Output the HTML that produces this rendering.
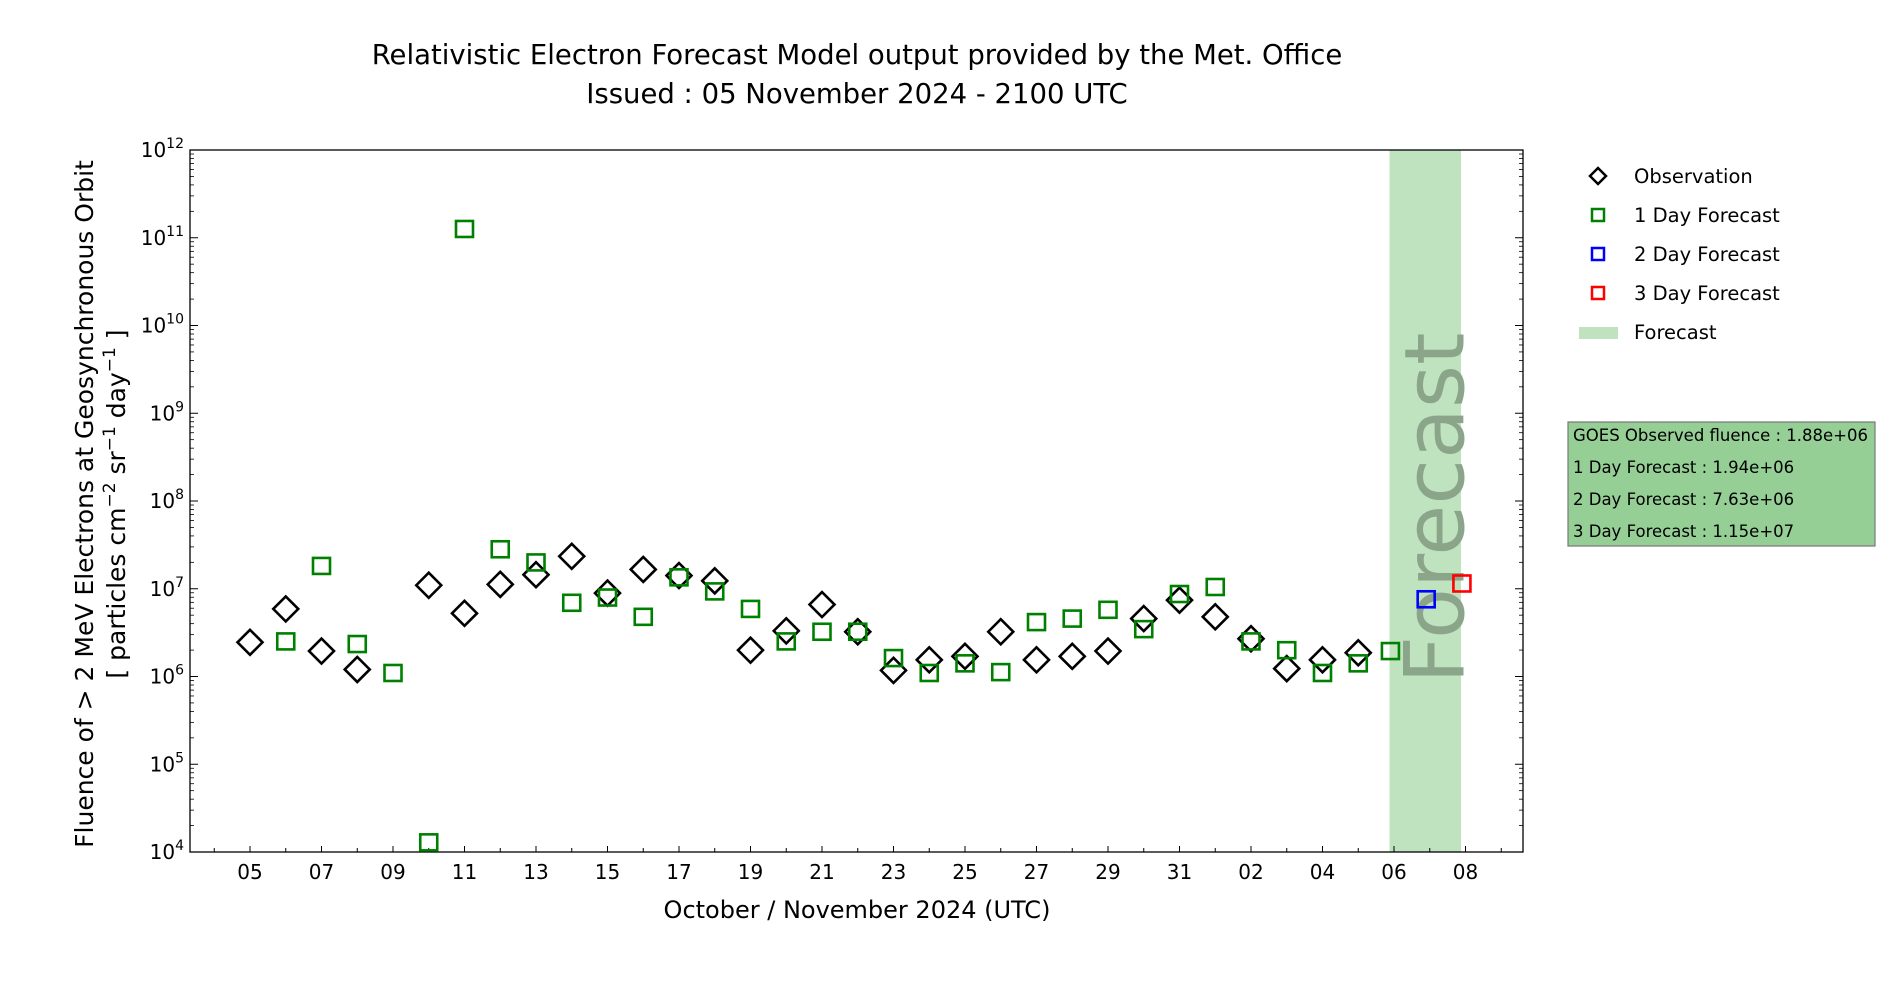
<!DOCTYPE html>
<html><head><meta charset="utf-8"><style>
body{margin:0;background:#fff;}
svg{display:block;font-family:"DejaVu Sans","Liberation Sans",sans-serif;}
</style></head><body>
<svg id="chart" width="1900" height="1000" viewBox="0 0 1900 1000">
<text x="857" y="64" text-anchor="middle" font-size="27.5">Relativistic Electron Forecast Model output provided by the Met. Office</text>
<text x="857" y="103" text-anchor="middle" font-size="27.5">Issued : 05 November 2024 - 2100 UTC</text>
<g id="plot"></g>
<text x="857" y="918" text-anchor="middle" font-size="24">October / November 2024 (UTC)</text>
<text transform="translate(93,504) rotate(-90)" text-anchor="middle" font-size="25">Fluence of &gt; 2 MeV Electrons at Geosynchronous Orbit</text>
<text transform="translate(125,504) rotate(-90)" text-anchor="middle" font-size="25">[ particles cm<tspan dy="-10" font-size="17">−2</tspan><tspan dy="10"> sr</tspan><tspan dy="-10" font-size="17">−1</tspan><tspan dy="10"> day</tspan><tspan dy="-10" font-size="17">−1</tspan><tspan dy="10"> ]</tspan></text>
<g transform="translate(-4,0)">
<path d="M1602,168 l8,8 l-8,8 l-8,-8 z" fill="none" stroke="#000" stroke-width="2.5"/>
<text x="1638" y="183" font-size="19.5">Observation</text>
<rect x="1596" y="209" width="12" height="12" fill="none" stroke="green" stroke-width="2.5"/>
<text x="1638" y="222" font-size="19.5">1 Day Forecast</text>
<rect x="1596" y="248" width="12" height="12" fill="none" stroke="blue" stroke-width="2.5"/>
<text x="1638" y="261" font-size="19.5">2 Day Forecast</text>
<rect x="1596" y="287" width="12" height="12" fill="none" stroke="red" stroke-width="2.5"/>
<text x="1638" y="300" font-size="19.5">3 Day Forecast</text>
<rect x="1583" y="327" width="39" height="12" fill="#bfe3bf"/>
<text x="1638" y="339" font-size="19.5">Forecast</text>
</g>
<g transform="translate(-4,0)">
<rect x="1572" y="422" width="307" height="124" fill="#95cf95" stroke="#777" stroke-width="1.2"/>
<text x="1577" y="441" font-size="16.5">GOES Observed fluence : 1.88e+06</text>
<text x="1577" y="473" font-size="16.5">1 Day Forecast : 1.94e+06</text>
<text x="1577" y="505" font-size="16.5">2 Day Forecast : 7.63e+06</text>
<text x="1577" y="537" font-size="16.5">3 Day Forecast : 1.15e+07</text>
</g>
</svg>
<script>
const obsDays=[0,1,2,3,5,6,7,8,9,10,11,12,13,14,15,16,17,18,19,20,21,22,23,24,25,26,27,28,29,30,31];
const obsLog=[6.39,6.77,6.29,6.08,7.04,6.72,7.05,7.16,7.37,6.95,7.22,7.15,7.09,6.30,6.52,6.82,6.51,6.07,6.19,6.23,6.51,6.19,6.23,6.29,6.66,6.87,6.68,6.43,6.09,6.19,6.27];
const f1Days=[1,2,3,4,5,6,7,8,9,10,11,12,13,14,15,16,17,18,19,20,21,22,23,24,25,26,27,28,29,30,31,31.9];
const f1Log=[6.40,7.26,6.37,6.04,4.11,11.10,7.45,7.30,6.84,6.90,6.68,7.13,6.97,6.77,6.40,6.51,6.51,6.21,6.04,6.15,6.05,6.62,6.66,6.76,6.54,6.94,7.02,6.40,6.30,6.04,6.15,6.29];
const f2Days=[32.9];const f2Log=[6.88];
const f3Days=[33.9];const f3Log=[7.06];
const xTickLabels=["05","07","09","11","13","15","17","19","21","23","25","27","29","31","02","04","06","08"];
const yTickExp=[4,5,6,7,8,9,10,11,12];
const bandStart=31.875, bandEnd=33.875;

const L=190,R=1523,T=150,B=852;
const X0=250,DX=35.75;
function xs(d){return X0+d*DX;}
function ys(l){return B-(l-4)*(B-T)/8;}
const NS="http://www.w3.org/2000/svg";
const g=document.getElementById('plot');
function mk(tag,attrs,parent){const e=document.createElementNS(NS,tag);for(const k in attrs)e.setAttribute(k,attrs[k]);(parent||g).appendChild(e);return e;}

const band=mk('rect',{x:xs(bandStart),y:T,width:xs(bandEnd)-xs(bandStart),height:B-T,fill:'#bfe3bf'});


const ft=mk('text',{transform:'translate('+(xs((bandStart+bandEnd)/2)+38)+',508) rotate(-90)','text-anchor':'middle','font-size':'83',fill:'#8aa58a'});
ft.textContent='Forecast';



yTickExp.forEach((e,i)=>{
  const y=ys(e);
  mk('line',{x1:L,x2:L+8,y1:y,y2:y,stroke:'#000','stroke-width':1});
  mk('line',{x1:R,x2:R-8,y1:y,y2:y,stroke:'#000','stroke-width':1});
  const t=mk('text',{x:L-6,y:y+7,'text-anchor':'end','font-size':'20'});
  t.innerHTML='10<tspan dy="-9" font-size="14">'+e+'</tspan>';
  
  
  if(i<yTickExp.length-1){for(let m=2;m<10;m++){const ym=ys(e+Math.log10(m));
    mk('line',{x1:L,x2:L+4,y1:ym,y2:ym,stroke:'#000','stroke-width':0.8});
    mk('line',{x1:R,x2:R-4,y1:ym,y2:ym,stroke:'#000','stroke-width':0.8});}}
});
for(let d=-1;d<=35;d++){const x=xs(d);if(x<L||x>R)continue;
  mk('line',{x1:x,x2:x,y1:B,y2:B-(d%2===0?6:4),stroke:'#000','stroke-width':1});}
xTickLabels.forEach((lab,i)=>{
  const t=mk('text',{x:xs(i*2),y:B+27,'text-anchor':'middle','font-size':'20'});
  t.textContent=lab;
  
  
});
const frame=mk('rect',{x:L,y:T,width:R-L,height:B-T,fill:'none',stroke:'#000','stroke-width':1.3});



function square(days,logs,color,name){
  days.forEach((d,i)=>{const x=xs(d),y=ys(logs[i]);
    const r=mk('rect',{x:x-8.5,y:y-8,width:17,height:16,fill:'none',stroke:color,'stroke-width':2.6});
    
    });
}
obsDays.forEach((d,i)=>{const x=xs(d),y=ys(obsLog[i]);
  const p=mk('path',{d:'M'+(x-12.5)+','+y+' L'+x+','+(y-12.5)+' L'+(x+12.5)+','+y+' L'+x+','+(y+12.5)+' Z',fill:'none',stroke:'#000','stroke-width':2.6});
  
  });
square(f1Days,f1Log,'green','forecast-1day-point');
square(f2Days,f2Log,'blue','forecast-2day-point');
square(f3Days,f3Log,'red','forecast-3day-point');
</script>
</body></html>
